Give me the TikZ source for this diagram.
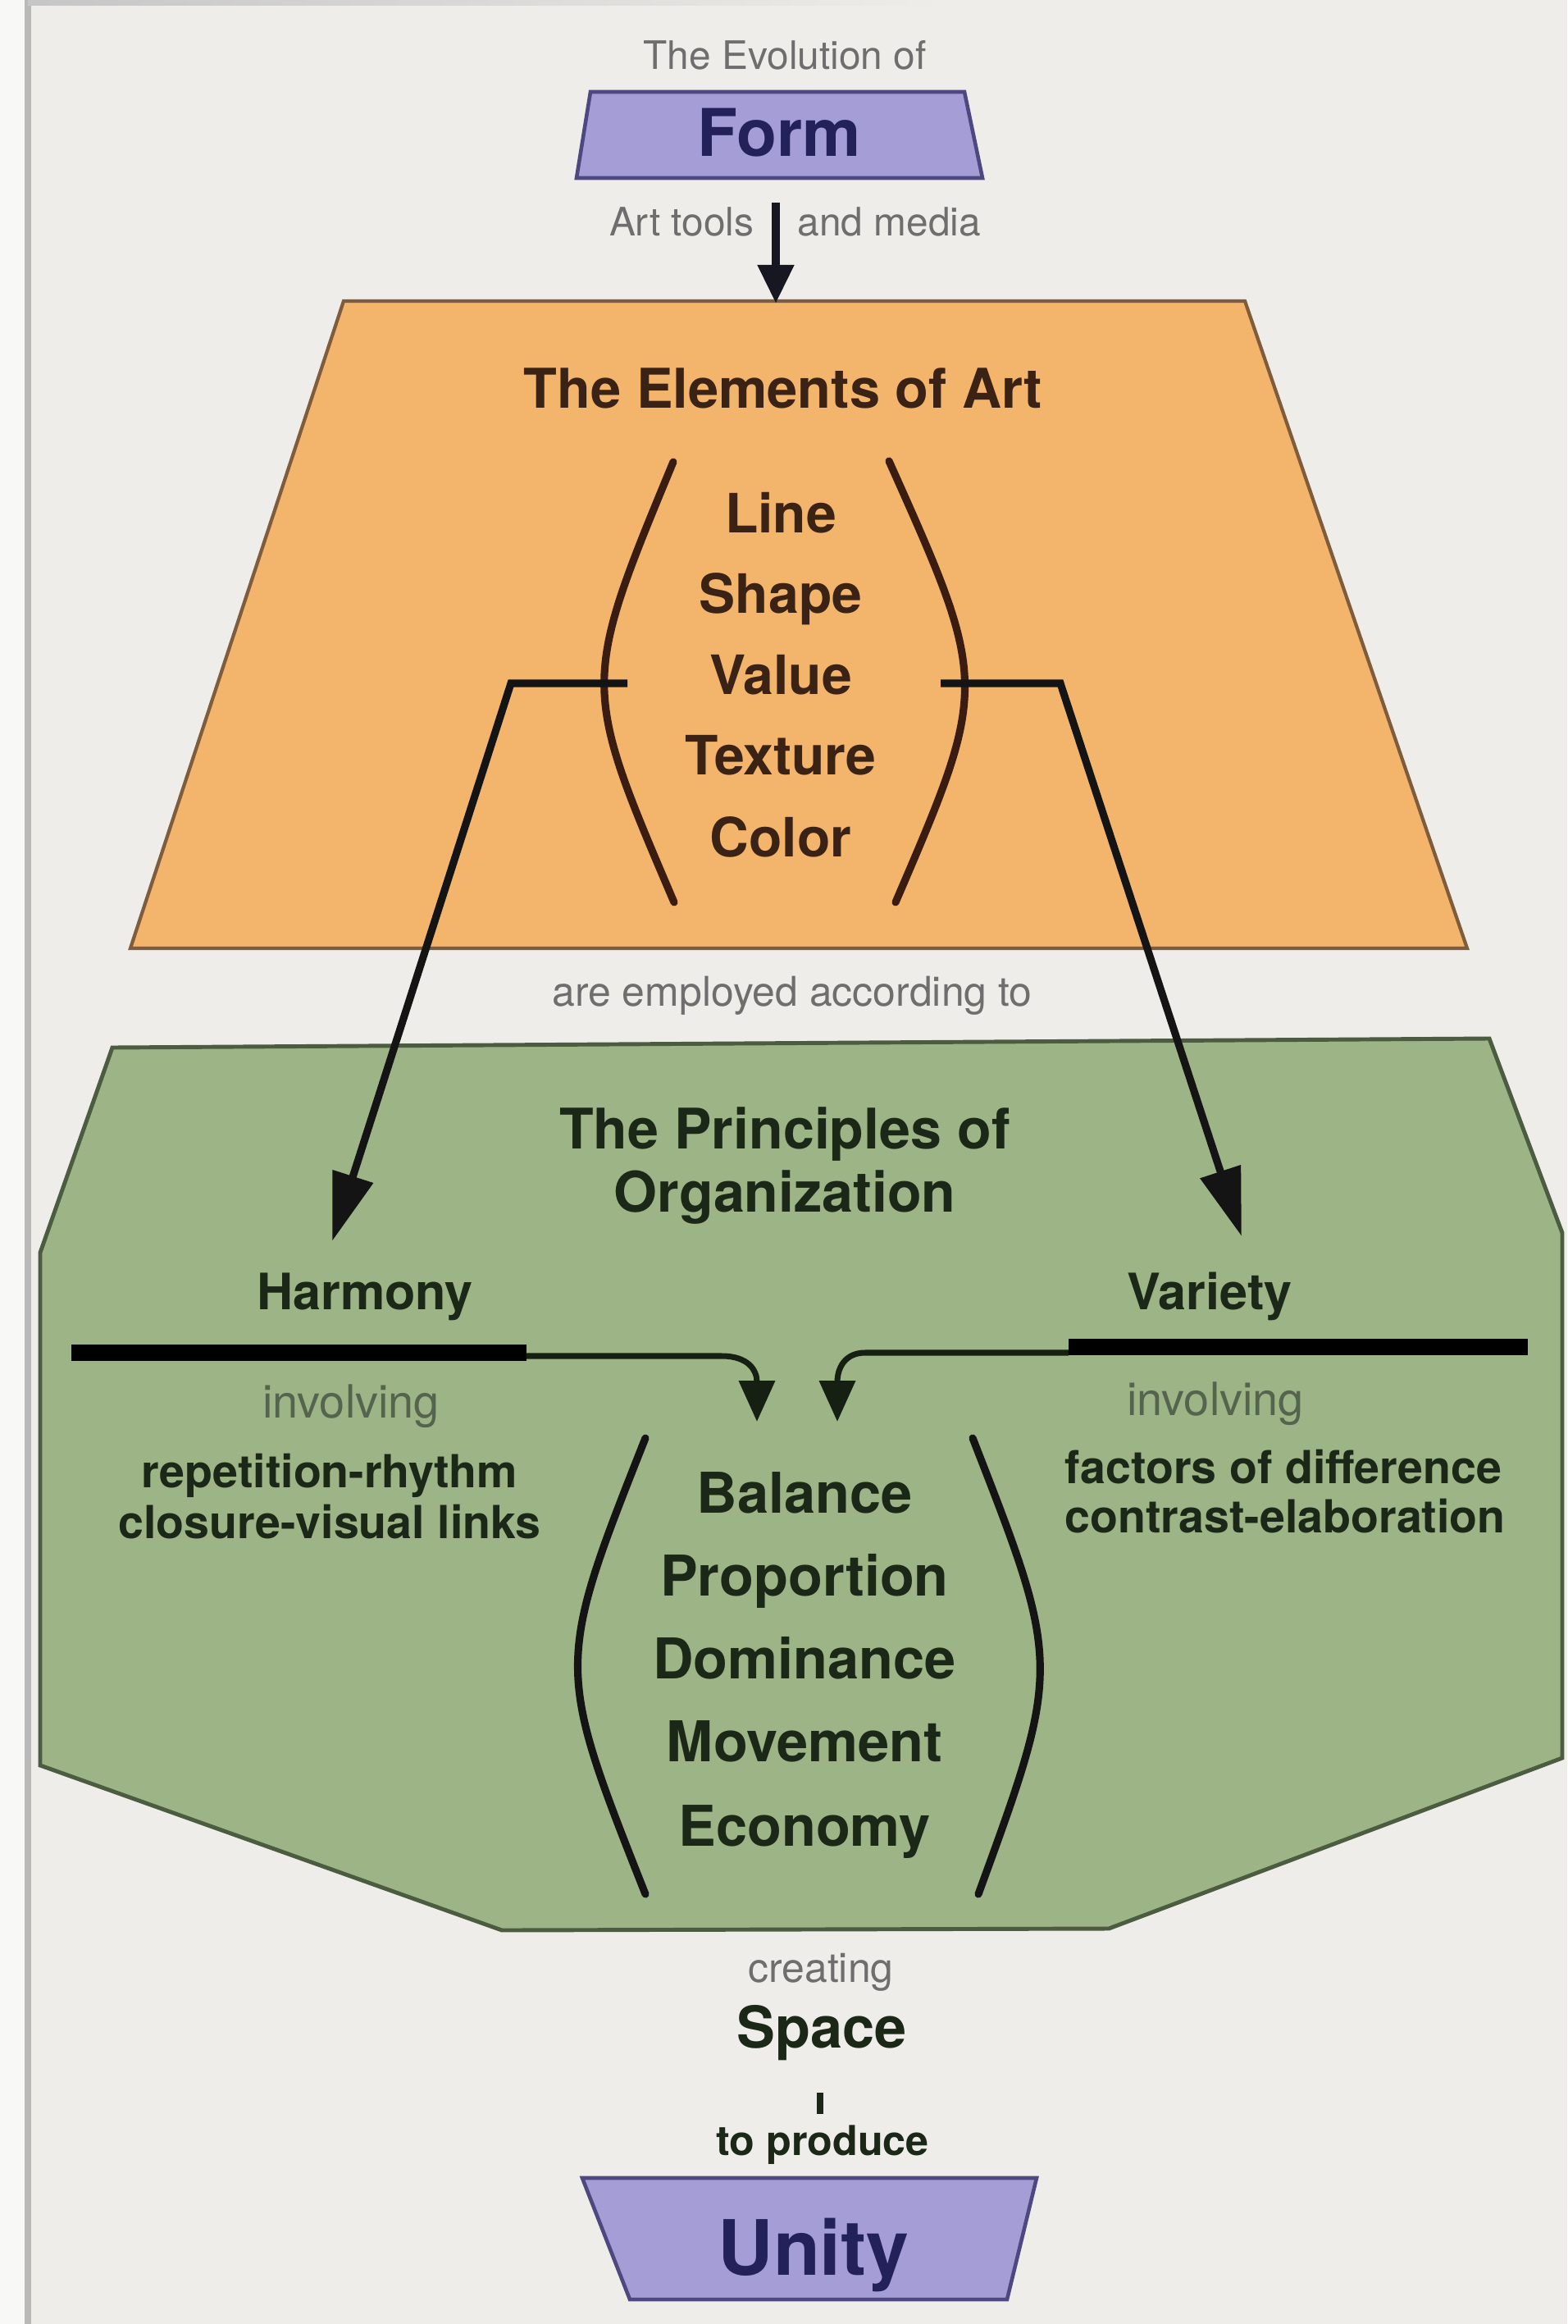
\documentclass[tikz,border=0pt]{standalone}
\usepackage{fontspec}
\setmainfont{TeX Gyre Heros}
\usetikzlibrary{arrows.meta}

\definecolor{bg}{HTML}{EEEDE9}
\definecolor{edgestrip}{HTML}{F8F8F7}
\definecolor{orangefill}{HTML}{F3B46B}
\definecolor{orangeline}{HTML}{7E5C3C}
\definecolor{greenfill}{HTML}{9CB486}
\definecolor{greenline}{HTML}{4B5C40}
\definecolor{lavfill}{HTML}{A59DD5}
\definecolor{lavline}{HTML}{4E4880}
\definecolor{navytext}{HTML}{23215A}
\definecolor{browntext}{HTML}{3A2214}
\definecolor{greentext}{HTML}{1B2817}
\definecolor{graytext}{HTML}{6E6E6E}
\definecolor{ggraytext}{HTML}{55654D}
\definecolor{inkdark}{HTML}{141414}
\definecolor{inkbrown}{HTML}{3A1C10}

\tikzset{
  txt/.style={inner sep=0pt, anchor=base},
  graysm/.style={txt, text=graytext, font=\fontsize{13.6}{16}\selectfont},
  graymid/.style={txt, text=graytext, font=\fontsize{14.2}{17}\selectfont},
  bigpurple/.style={txt, text=navytext, font=\fontsize{22.8}{26}\selectfont\bfseries},
  unitytext/.style={txt, text=navytext, font=\fontsize{26.5}{30}\selectfont\bfseries},
  otitle/.style={txt, text=browntext, font=\fontsize{19}{22}\selectfont\bfseries},
  oitem/.style={txt, text=browntext, font=\fontsize{18.8}{22}\selectfont\bfseries},
  gtitle/.style={txt, text=greentext, font=\fontsize{19.4}{22}\selectfont\bfseries},
  gsub/.style={txt, text=greentext, font=\fontsize{17.4}{20}\selectfont\bfseries},
  ginv/.style={txt, text=ggraytext, font=\fontsize{15.9}{18}\selectfont},
  gsmall/.style={txt, text=greentext, font=\fontsize{15.8}{18}\selectfont\bfseries},
  gitem/.style={txt, text=greentext, font=\fontsize{19.5}{22}\selectfont\bfseries},
  darksm/.style={txt, text=greentext, font=\fontsize{14.3}{17}\selectfont\bfseries},
  spacetext/.style={txt, text=greentext, font=\fontsize{20}{23}\selectfont\bfseries},
  lavshape/.style={fill=lavfill, draw=lavline, line width=1.3pt, line join=miter},
  orshape/.style={fill=orangefill, draw=orangeline, line width=1.2pt, line join=miter},
  grshape/.style={fill=greenfill, draw=greenline, line width=1.4pt, line join=miter},
  oparen/.style={draw=inkbrown, line width=2.6pt, line cap=round},
  gparen/.style={draw=inkdark, line width=2.6pt, line cap=round},
  bigconn/.style={draw=inkdark, line width=2.6pt, line join=miter,
    -{Triangle[length=0.83cm, width=0.5cm]}},
  smallconn/.style={draw=greentext!80!black, line width=2pt,
    -{Triangle[length=0.5cm, width=0.43cm]}},
  topconn/.style={draw=inkdark!80!navytext, line width=3pt,
    -{Triangle[length=0.47cm, width=0.42cm]}},
  thickbar/.style={draw=black, line width=5.7pt},
  smallbar/.style={draw=greentext, line width=2.4pt},
}

\begin{document}
\begin{tikzpicture}
% canvas
\useasboundingbox (0,0) rectangle (19.11,-28.33);
\fill[bg] (0,0) rectangle (19.11,-28.33);
\fill[edgestrip] (0,0) rectangle (0.33,-28.33);
\draw[gray!55, line width=2pt] (0.34,0) -- (0.34,-28.33);
\shade[left color=gray!45, right color=bg] (0.34,0) rectangle (11.5,-0.07);

% ---------- Form ----------
\draw[lavshape] (7.20,-1.12) -- (11.76,-1.12) -- (11.98,-2.17) -- (7.03,-2.17) -- cycle;
\node[graysm] (evol) at (9.57,-0.85) {The Evolution of};
\node[bigpurple] (form) at (9.50,-1.91) {Form};
\node[graysm, anchor=base east] (arttools) at (9.20,-2.88) {Art tools};
\node[graysm, anchor=base west] (media) at (9.72,-2.88) {and media};

% ---------- Elements of Art ----------
\draw[orshape] (4.19,-3.67) -- (15.18,-3.67) -- (17.89,-11.56) -- (1.59,-11.56) -- cycle;
\coordinate (formB) at (9.46,-2.47);
\coordinate (elemT) at (9.46,-3.70);
\draw[topconn] (formB) -- (elemT);

\node[otitle] (elements) at (9.55,-4.98) {The Elements of Art};
\node[oitem] (line)    at (9.52,-6.50)  {Line};
\node[oitem] (shape)   at (9.52,-7.48)  {Shape};
\node[oitem] (value)   at (9.52,-8.47)  {Value};
\node[oitem] (texture) at (9.52,-9.45)  {Texture};
\node[oitem] (color)   at (9.52,-10.44) {Color};

\draw[oparen] (8.21,-5.63) .. controls (7.085,-8.345) .. (8.22,-11.00);
\draw[oparen] (10.84,-5.62) .. controls (12.06,-8.345) .. (10.92,-11.00);

\node[graymid] (employed) at (9.66,-12.26) {are employed according to};

% ---------- Principles of Organization ----------
\draw[grshape] (1.37,-12.77) -- (18.16,-12.66) -- (19.05,-15.03) -- (19.05,-21.43)
  -- (13.52,-23.51) -- (6.12,-23.53) -- (0.49,-21.52) -- (0.49,-15.27) -- cycle;

\node[gtitle] (principles)   at (9.57,-14.00) {The Principles of};
\node[gtitle] (organization) at (9.57,-14.77) {Organization};
\node[gsub] (harmony) at (4.45,-15.96) {Harmony};
\node[gsub] (variety) at (14.75,-15.96) {Variety};

% connectors from the elements to harmony / variety
\coordinate (lpm) at (7.65,-8.33);
\coordinate (lbend) at (6.23,-8.33);
\coordinate (htip) at (4.05,-15.13);
\coordinate (rpm) at (11.47,-8.33);
\coordinate (rbend) at (12.93,-8.33);
\coordinate (vtip) at (15.14,-15.07);
\draw[bigconn] (lpm) -- (lbend) -- (htip);
\draw[bigconn] (rpm) -- (rbend) -- (vtip);

% bars and the two small arrows
\coordinate (hbarL) at (0.87,-16.49);
\coordinate (hbarR) at (6.42,-16.49);
\coordinate (vbarL) at (13.03,-16.42);
\coordinate (vbarR) at (18.63,-16.42);
\draw[thickbar] (hbarL) -- (hbarR);
\draw[thickbar] (vbarL) -- (vbarR);
\coordinate (htS) at (6.42,-16.53);
\coordinate (htK) at (8.80,-16.53);
\coordinate (btipL) at (9.23,-17.33);
\coordinate (vtS) at (13.03,-16.49);
\coordinate (vtK) at (10.55,-16.49);
\coordinate (btipR) at (10.21,-17.33);
\draw[smallconn] (htS) -- (htK) .. controls (9.12,-16.53) and (9.23,-16.70) .. (btipL);
\draw[smallconn] (vtS) -- (vtK) .. controls (10.30,-16.49) and (10.21,-16.68) .. (btipR);

\node[ginv] (linv) at (4.28,-17.28) {involving};
\node[ginv] (rinv) at (14.82,-17.25) {involving};
\node[gsmall] (rep)   at (4.02,-18.13) {repetition-rhythm};
\node[gsmall] (clos)  at (4.02,-18.75) {closure-visual links};
\node[gsmall] (fact)  at (15.65,-18.08) {factors of difference};
\node[gsmall] (contr) at (15.67,-18.68) {contrast-elaboration};

\node[gitem] (balance)    at (9.81,-18.44) {Balance};
\node[gitem] (proportion) at (9.81,-19.45) {Proportion};
\node[gitem] (dominance)  at (9.81,-20.46) {Dominance};
\node[gitem] (movement)   at (9.81,-21.47) {Movement};
\node[gitem] (economy)    at (9.81,-22.50) {Economy};

\draw[gparen] (7.87,-17.53) .. controls (6.77,-20.31) .. (7.87,-23.09);
\draw[gparen] (11.86,-17.53) .. controls (12.945,-20.31) .. (11.93,-23.09);

% ---------- Space / Unity ----------
\node[graymid] (creating) at (10.01,-24.16) {creating};
\node[spacetext] (space) at (10.02,-24.96) {Space};
\coordinate (barT) at (10.00,-25.51);
\coordinate (barB) at (10.00,-25.77);
\draw[smallbar] (barT) -- (barB);
\node[darksm] (produce) at (10.03,-26.27) {to produce};

\draw[lavshape] (7.10,-26.55) -- (12.64,-26.55) -- (12.28,-28.03) -- (7.68,-28.03) -- cycle;
\node[unitytext] (unity) at (9.92,-27.73) {Unity};
\end{tikzpicture}
\end{document}
